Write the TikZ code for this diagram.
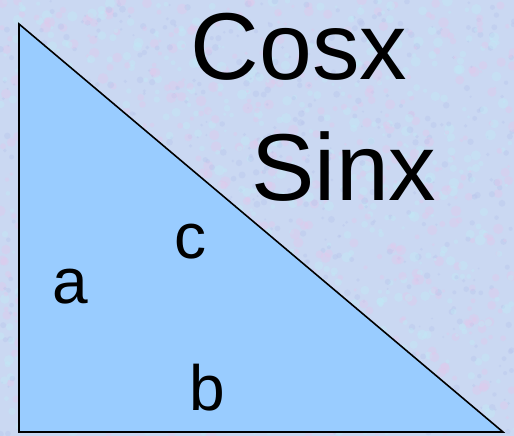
\documentclass[tikz,border=0pt]{standalone}
\usepackage{fontspec}
\setmainfont{Liberation Sans}
\usepackage{xcolor}
\definecolor{Paper}{HTML}{CAD8F2}
\definecolor{Rose}{HTML}{E2C8EC}
\definecolor{Aqua}{HTML}{C0EAF6}
\definecolor{Lilac}{HTML}{B8C4EC}
\definecolor{SkyFill}{HTML}{99CCFF}
\usetikzlibrary{positioning}
\tikzset{
  biglabel/.style={anchor=base,inner sep=0pt,font=\fontsize{95}{95}\selectfont},
  sidelabel/.style={anchor=base,inner sep=0pt,font=\fontsize{64}{64}\selectfont},
  speck/.style={opacity=0.4},
  edge/.style={draw=black,line width=1.6pt,line join=miter}
}
\begin{document}
\begin{tikzpicture}[x=1pt,y=-1pt]
  \useasboundingbox (0,0) rectangle (514,436);
  % textured paper
  \begin{scope}
    \clip (0,0) rectangle (514,436);
    \fill[Paper] (0,0) rectangle (514,436);
    \pgfmathsetseed{11}
    \foreach \i in {1,...,700}{
      \fill[Rose,speck] ({rnd*514},{rnd*436}) circle[radius={1.5pt+rnd*4pt}];
      \fill[Aqua,speck] ({rnd*514},{rnd*436}) circle[radius={1.5pt+rnd*4pt}];
      \fill[Lilac,speck] ({rnd*514},{rnd*436}) circle[radius={1pt+rnd*2.5pt}];
    }
  \end{scope}

  \coordinate (top) at (19,24);
  \coordinate (corner) at (19,432);
  \coordinate (tip) at (503,432);
  \filldraw[edge,fill=SkyFill] (top) -- (corner) -- (tip) -- cycle;

  \node[biglabel] (cosx) at (299,80) {Cosx};
  \node[biglabel] (sinx) at (344,200) {Sinx};
  \node[sidelabel] (hyp) at (190,258) {c};
  \node[sidelabel] (sidea) at (70,303) {a};
  \node[sidelabel] (sideb) at (207,410) {b};
\end{tikzpicture}
\end{document}
